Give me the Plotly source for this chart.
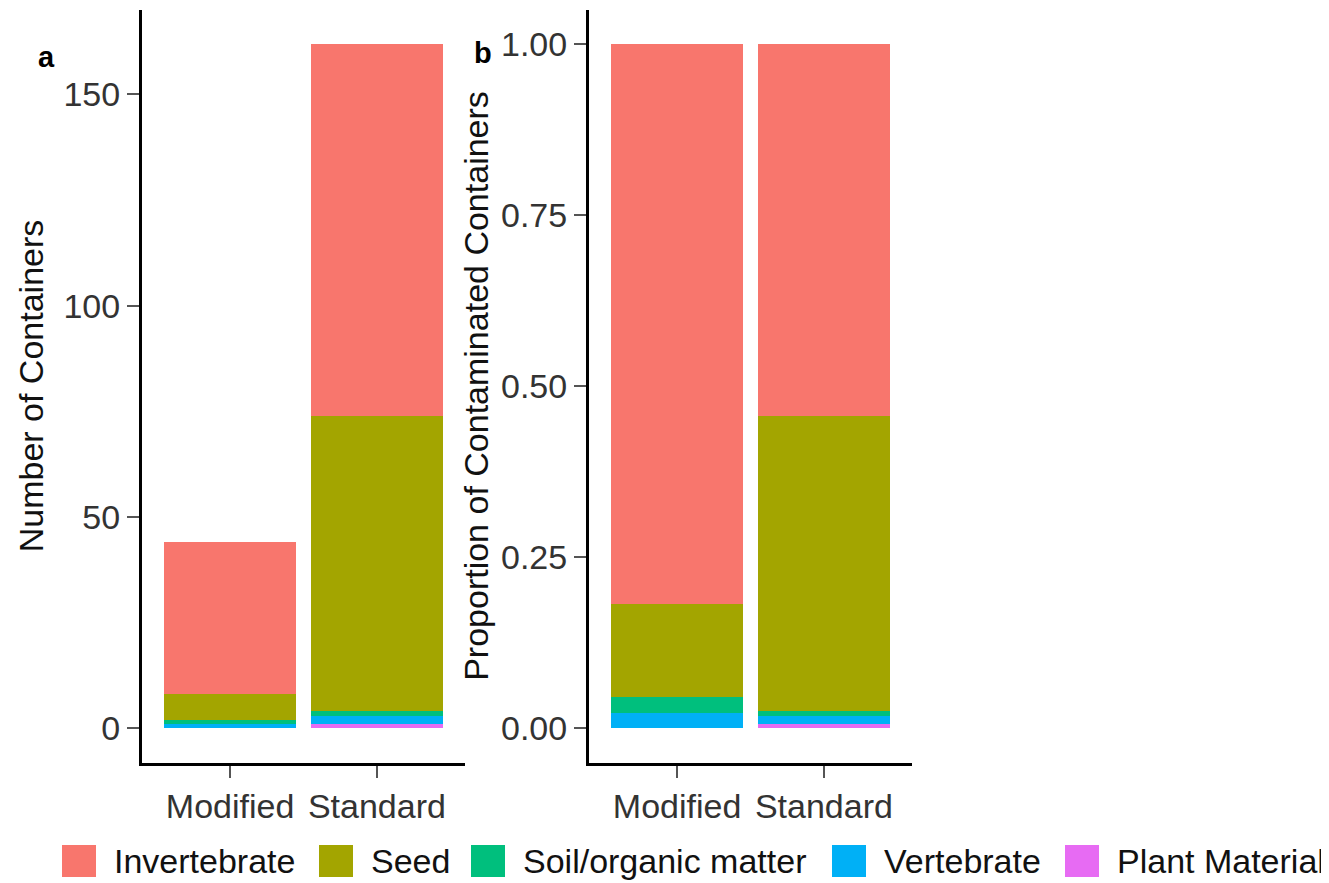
import plotly.graph_objects as go

# ---- data ----
groups = ["Modified", "Standard"]
categories = ["Invertebrate", "Seed", "Soil/organic matter", "Vertebrate", "Plant Material"]
invertebrate = [36, 88]
seed = [6, 70]
soil = [1, 1]
vertebrate = [1, 2]
plant = [0, 1]
yticks_a = [0, 50, 100, 150]
yticks_b = [0.0, 0.25, 0.50, 0.75, 1.00]

colors = {
    "Invertebrate": "#F8766D",
    "Seed": "#A3A500",
    "Soil/organic matter": "#00BF7D",
    "Vertebrate": "#00B0F6",
    "Plant Material": "#E76BF3",
}
values = {
    "Invertebrate": invertebrate,
    "Seed": seed,
    "Soil/organic matter": soil,
    "Vertebrate": vertebrate,
    "Plant Material": plant,
}
totals = [sum(values[c][i] for c in categories) for i in range(len(groups))]

FONT = "Liberation Sans, Arial, sans-serif"
fig = go.Figure()

# stack from bottom: Plant, Vertebrate, Soil, Seed, Invertebrate
for cat in reversed(categories):
    fig.add_trace(go.Bar(x=groups, y=values[cat], name=cat, marker_color=colors[cat],
                         marker_line_width=0, xaxis="x", yaxis="y", showlegend=False))
    props = [v / t for v, t in zip(values[cat], totals)]
    fig.add_trace(go.Bar(x=groups, y=props, name=cat, marker_color=colors[cat],
                         marker_line_width=0, xaxis="x2", yaxis="y2", showlegend=False))

# page body has an 8px margin; lay out in viewport pixels
OFF = 8
W, H = 1329 - OFF, 883 - OFF


def px(x):
    return (x - OFF) / W


def py(y):
    return 1 - (y - OFF) / H


ydom = [py(762.5), py(9.5)]
axis_common = dict(showgrid=False, zeroline=False, showline=True, linecolor="black", linewidth=3,
                   ticks="outside", ticklen=12, tickwidth=2, tickcolor="#555555",
                   tickfont=dict(family=FONT, size=34, color="#333333"), automargin=False)

fig.update_layout(
    width=W, height=H, barmode="stack", bargap=0.1,
    plot_bgcolor="white", paper_bgcolor="white",
    margin=dict(l=0, r=0, t=0, b=0),
    showlegend=False,
    xaxis=dict(domain=[px(142), px(465)], range=[-0.6, 1.6], anchor="y", **axis_common),
    xaxis2=dict(domain=[px(589), px(912)], range=[-0.6, 1.6], anchor="y2", **axis_common),
    yaxis=dict(domain=ydom, range=[-8.1, 170.1], anchor="x", tickvals=yticks_a,
               title=dict(text="Number of Containers", standoff=10,
                          font=dict(family=FONT, size=34, color="#111111")),
               **axis_common),
    yaxis2=dict(domain=ydom, range=[-0.05, 1.05], anchor="x2", tickvals=yticks_b, tickformat=".2f",
                title=dict(text="Proportion of Contaminated Containers", standoff=3,
                           font=dict(family=FONT, size=34, color="#111111")),
                **axis_common),
)

# panel labels
fig.add_annotation(x=px(36), y=py(39), xref="paper", yref="paper", text="<b>a</b>",
                   showarrow=False, font=dict(family=FONT, size=29, color="black"))
fig.add_annotation(x=px(483), y=py(35), xref="paper", yref="paper", text="<b>b</b>",
                   showarrow=False, font=dict(family=FONT, size=29, color="black"))

# legend (manual, bottom)
sq_left = [62, 319, 471, 832, 1065]
sq_w, sq_top, sq_bot = 34, 845, 877
for cat, x0 in zip(categories, sq_left):
    fig.add_shape(type="rect", xref="paper", yref="paper",
                  x0=px(x0), x1=px(x0 + sq_w), y0=py(sq_bot), y1=py(sq_top),
                  fillcolor=colors[cat], line_width=0)
    fig.add_annotation(x=px(x0 + sq_w + 16), y=py(861), xref="paper", yref="paper",
                       text=cat, showarrow=False, xanchor="left", yanchor="middle",
                       font=dict(family=FONT, size=34, color="#111111"))

fig.write_html("out.html")
